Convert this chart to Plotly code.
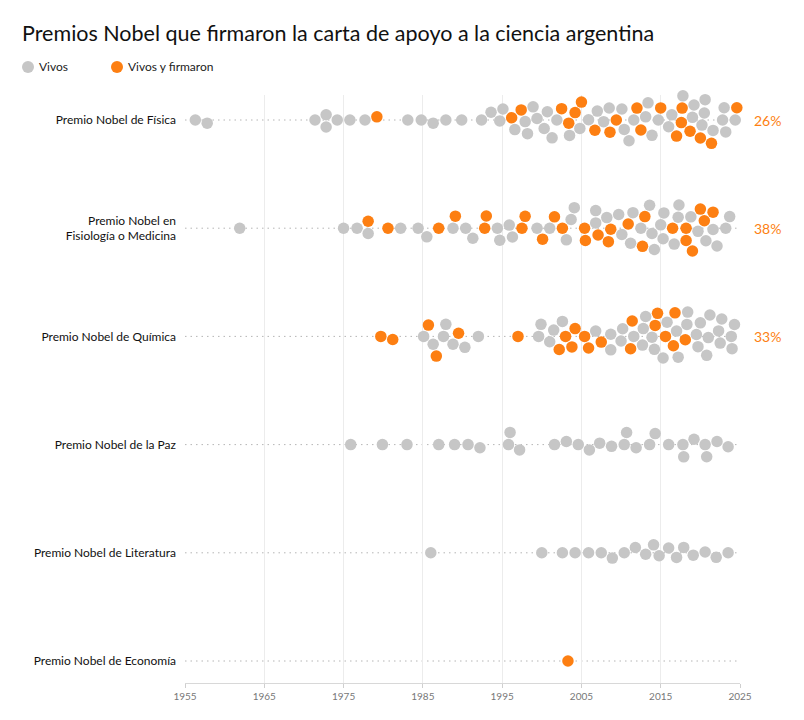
import math
import numpy as np
import plotly.graph_objects as go

# ---------------- data ----------------
categories = ["Premio Nobel de Física", "Premio Nobel en<br>Fisiología o Medicina",
              "Premio Nobel de Química", "Premio Nobel de la Paz",
              "Premio Nobel de Literatura", "Premio Nobel de Economía"]
pct_labels = ["26%", "38%", "33%", "", "", ""]

fisica_vivos = [1956.3, 1957.8, 1971.4, 1972.8, 1972.8, 1974.2, 1975.8, 1977.7, 1983.1, 1984.8,
                1986.3, 1987.9, 1989.9, 1992.4, 1993.6, 1994.7, 1995.1, 1996.6, 1997.9, 1998.2,
                1998.9, 1999.4, 2000.3, 2000.7, 2001.3, 2001.9, 2003.5, 2004.8, 2005.9, 2007.0,
                2007.8, 2008.5, 2010.1, 2010.4, 2011.0, 2011.6, 2013.1, 2013.4, 2013.9, 2014.7,
                2016.0, 2016.4, 2017.8, 2019.0, 2019.2, 2020.2, 2020.5, 2020.6, 2021.6, 2021.8,
                2022.8, 2023.0, 2023.2, 2024.4]
fisica_firmaron = [1979.2, 1996.2, 1997.4, 2002.5, 2003.4, 2004.2, 2005.0, 2006.7, 2008.6, 2009.4,
                   2012.0, 2012.5, 2015.0, 2017.0, 2017.6, 2017.7, 2018.7, 2020.0, 2021.4, 2024.6]

medicina_vivos = [1961.9, 1975.0, 1976.7, 1978.1, 1982.2, 1984.4, 1985.5, 1988.8, 1990.4, 1991.3,
                  1994.7, 1994.4, 1996.3, 1995.9, 1999.4, 2001.0, 2003.7, 2004.1, 2003.1, 2006.8,
                  2006.8, 2008.2, 2009.7, 2011.2, 2010.1, 2011.5, 2012.5, 2013.6, 2013.9, 2014.2,
                  2015.0, 2015.3, 2015.4, 2017.2, 2016.7, 2017.3, 2018.8, 2020.7, 2019.7, 2022.1,
                  2021.6, 2023.2, 2023.7]
medicina_firmaron = [1978.1, 1980.6, 1987.0, 1989.1, 1992.8, 1993.0, 1997.9, 1997.5, 2000.1, 2001.6,
                     2002.6, 2005.5, 2005.4, 2007.1, 2008.4, 2008.7, 2010.9, 2012.7, 2013.0, 2016.5,
                     2018.2, 2019.0, 2018.2, 2020.0, 2020.5, 2021.6]

quimica_vivos = [1985.1, 1986.3, 1987.9, 1987.6, 1988.8, 1990.3, 1992.0, 1999.9, 1999.6, 2001.5,
                 2001.0, 2002.6, 2006.8, 2008.7, 2008.7, 2010.0, 2010.2, 2011.6, 2012.7, 2012.8,
                 2013.1, 2013.9, 2014.2, 2015.3, 2015.8, 2017.0, 2017.2, 2018.3, 2018.4, 2019.5,
                 2019.7, 2020.0, 2020.8, 2021.0, 2021.2, 2022.3, 2022.5, 2022.7, 2023.9, 2024.0,
                 2024.3]
quimica_firmaron = [1979.7, 1981.2, 1986.7, 1985.7, 1989.5, 1997.0, 2003.0, 2002.2, 2004.2, 2003.8,
                    2005.9, 2005.4, 2007.5, 2011.2, 2011.4, 2014.3, 2014.6, 2015.6, 2016.6, 2016.8,
                    2018.1]

paz_vivos = [1975.9, 1979.9, 1983.0, 1987.0, 1989.0, 1990.7, 1992.2, 1995.8, 1996.0, 1997.2,
             2001.6, 2003.1, 2004.6, 2006.0, 2007.3, 2008.8, 2010.4, 2010.7, 2011.9, 2013.6,
             2014.3, 2016.0, 2017.8, 2017.9, 2019.2, 2020.6, 2020.8, 2022.1, 2023.5]
paz_firmaron = []

literatura_vivos = [1986.0, 2000.0, 2002.6, 2004.2, 2005.9, 2007.5, 2008.9, 2010.4, 2011.8, 2013.1,
                    2014.1, 2014.8, 2016.0, 2017.0, 2017.9, 2019.1, 2020.6, 2022.0, 2023.5]
literatura_firmaron = []

economia_vivos = []
economia_firmaron = [2003.3]

x_ticks = [1955, 1965, 1975, 1985, 1995, 2005, 2015, 2025]

rows = [(fisica_vivos, fisica_firmaron), (medicina_vivos, medicina_firmaron),
        (quimica_vivos, quimica_firmaron), (paz_vivos, paz_firmaron),
        (literatura_vivos, literatura_firmaron), (economia_vivos, economia_firmaron)]

# ---------------- layout constants ----------------
# the page adds an 8px body margin, so the figure is drawn 8px smaller/shifted
OFF = 8
W, H = 804 - OFF, 720 - OFF
ML, MT = 185 - OFF, 95 - OFF
PLOT_W, PLOT_H = 555, 588
MR, MB = W - ML - PLOT_W, H - MT - PLOT_H
X0, X1 = 1955, 2025
PX_PER_YEAR = PLOT_W / (X1 - X0)
ROW_GAP_PX = 108.2
Y_RANGE = [-(683 - 661) / ROW_GAP_PX, 5 + (120 - 95) / ROW_GAP_PX]
GRAY = "#c6c6c6"
ORANGE = "#fd7f12"
DOT = 11.5
COLLIDE = 12.3


def swarm(years):
    """Greedy beeswarm: pixel offsets (up = +) so that dots don't overlap."""
    px = (np.asarray(years, dtype=float) - X0) * PX_PER_YEAR
    order = np.argsort(px, kind="stable")
    placed = []
    ys = np.zeros(len(px))
    last = 1.0
    d2 = COLLIDE * COLLIDE
    for i in order:
        x = px[i]
        near = [(xj, yj) for xj, yj in placed if abs(xj - x) < COLLIDE]
        cands = [0.0]
        for xj, yj in near:
            h = math.sqrt(max(d2 - (xj - x) ** 2, 0))
            cands += [yj + h, yj - h]
        best = 0.0
        for c in sorted(cands, key=lambda c: (round(abs(c), 6), c * last)):
            if all((xj - x) ** 2 + (yj - c) ** 2 >= d2 - 1e-6 for xj, yj in near):
                best = c
                break
        ys[i] = best
        placed.append((x, best))
        if abs(best) > 1e-9:
            last = 1.0 if best > 0 else -1.0
    return ys


gx, gy, ox, oy = [], [], [], []
for k, (vivos, firmaron) in enumerate(rows):
    base = 5 - k
    allyears = list(vivos) + list(firmaron)
    flags = [0] * len(vivos) + [1] * len(firmaron)
    if not allyears:
        continue
    offs = swarm(allyears)
    for yr, f, o in zip(allyears, flags, offs):
        yv = base + o / ROW_GAP_PX
        if f:
            ox.append(yr); oy.append(yv)
        else:
            gx.append(yr); gy.append(yv)

fig = go.Figure()
fig.add_trace(go.Scatter(x=gx, y=gy, mode="markers", name="Vivos", cliponaxis=False,
                         marker=dict(color=GRAY, size=DOT, line=dict(width=0)),
                         hoverinfo="x"))
fig.add_trace(go.Scatter(x=ox, y=oy, mode="markers", name="Vivos y firmaron", cliponaxis=False,
                         marker=dict(color=ORANGE, size=DOT, line=dict(width=0)),
                         hoverinfo="x"))

shapes = []
for k in range(len(categories)):
    shapes.append(dict(type="line", xref="x", yref="y", x0=X0, x1=X1, y0=5 - k, y1=5 - k,
                       line=dict(color="#b5b5b5", width=1, dash="1.5px,4px"), layer="below"))


def px_to_paper_x(p):
    return (p - OFF - ML) / PLOT_W


def px_to_paper_y(p):
    return 1 - (p - OFF - MT) / PLOT_H


# manual legend
leg_y = px_to_paper_y(67)
for cx, col in [(28, GRAY), (117, ORANGE)]:
    shapes.append(dict(type="circle", xref="paper", yref="paper", xsizemode="pixel", ysizemode="pixel",
                       xanchor=px_to_paper_x(cx), yanchor=leg_y, x0=-6, x1=6, y0=-6, y1=6,
                       fillcolor=col, line=dict(width=0)))

annotations = []
for txt, tx in [("Vivos", 37), ("Vivos y firmaron", 126)]:
    annotations.append(dict(text=txt, xref="paper", yref="paper", x=px_to_paper_x(tx), y=leg_y,
                            xanchor="left", yanchor="middle", showarrow=False,
                            font=dict(size=12, color="#222")))
for k, p in enumerate(pct_labels):
    if p:
        annotations.append(dict(text=p, xref="x", yref="y", x=X1, y=5 - k, xanchor="left",
                                yanchor="middle", xshift=12, showarrow=False,
                                font=dict(size=14, color=ORANGE)))

fig.update_layout(
    width=W, height=H,
    margin=dict(l=ML, r=MR, t=MT, b=MB, autoexpand=False),
    paper_bgcolor="white", plot_bgcolor="white",
    font=dict(family="Lato, 'Open Sans', sans-serif", color="#222"),
    showlegend=False,
    title=dict(text="Premios Nobel que firmaron la carta de apoyo a la ciencia argentina",
               xref="container", yref="container", x=(22 - OFF) / W, xanchor="left",
               y=1 - (33 - OFF) / H, yanchor="middle", font=dict(size=21.5, color="#111")),
    xaxis=dict(range=[X0, X1], tickvals=x_ticks, ticktext=[str(t) for t in x_ticks],
               showgrid=True, gridcolor="#ececec", gridwidth=1, zeroline=False,
               showline=True, linecolor="#d8d8d8", linewidth=1,
               ticks="outside", ticklen=4, tickcolor="#cfcfcf",
               tickfont=dict(size=10, color="#777")),
    yaxis=dict(range=Y_RANGE, tickvals=[5, 4, 3, 2, 1, 0], ticktext=categories,
               showgrid=False, zeroline=False, showline=False, ticks="",
               ticklabelstandoff=8, tickfont=dict(size=12, color="#111")),
    shapes=shapes, annotations=annotations,
)

fig.write_html("out.html")
